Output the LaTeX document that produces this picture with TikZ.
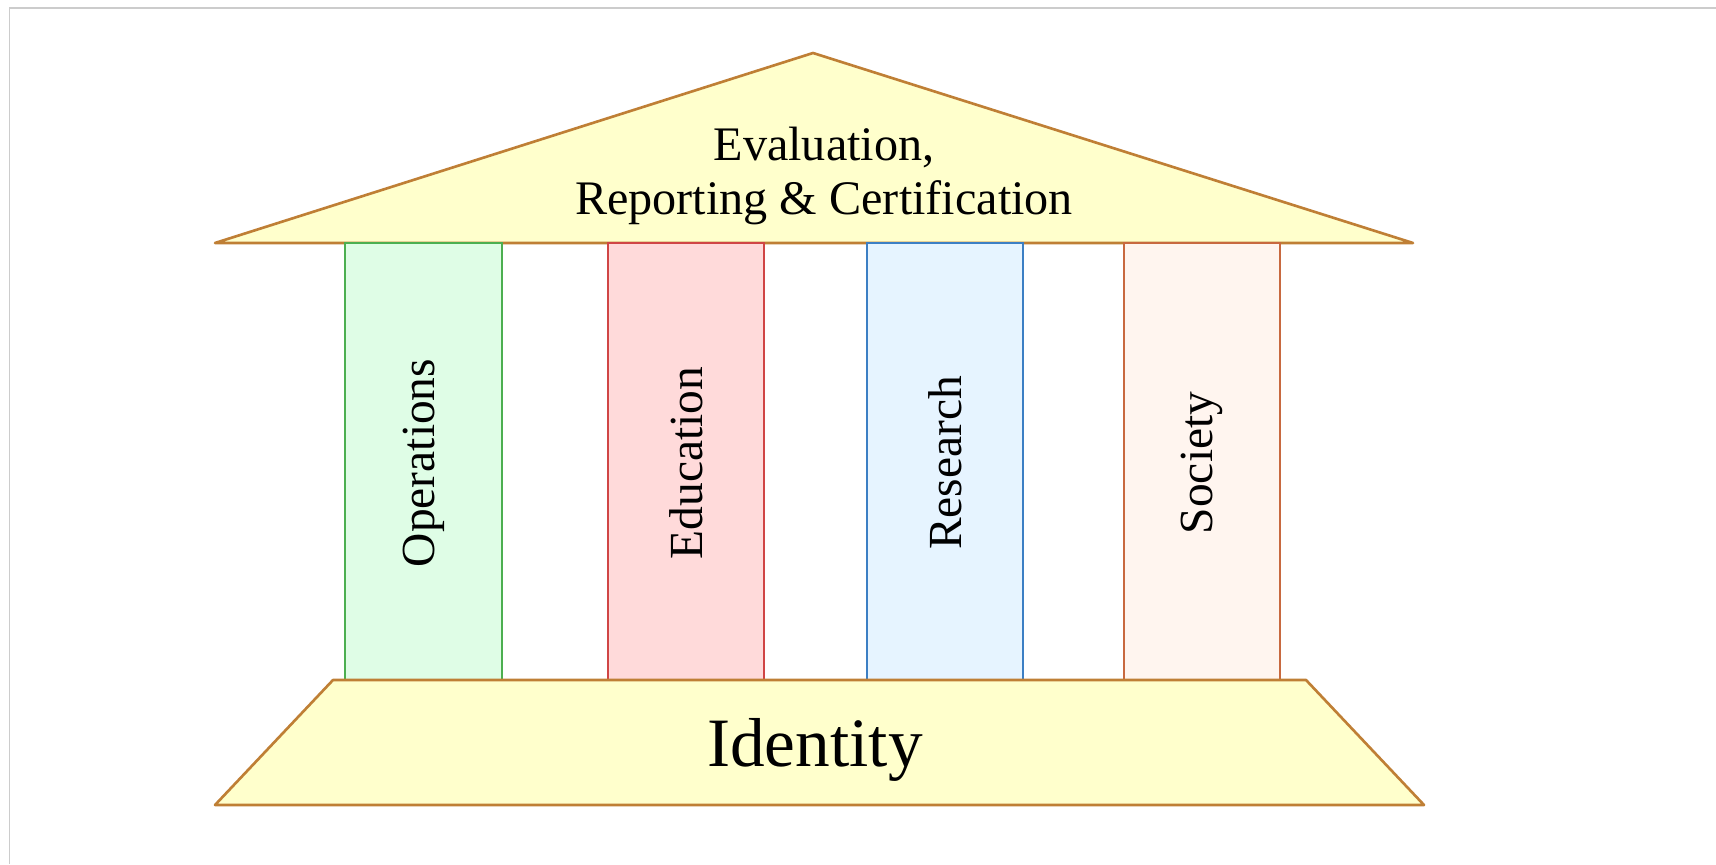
\documentclass[tikz,border=0pt]{standalone}
\usepackage{fontspec}
\setmainfont{Liberation Serif}
\usepackage{tikz}

\definecolor{frameline}{HTML}{CCCCCC}
\definecolor{roofline}{HTML}{BF7F35}
\definecolor{rooffill}{HTML}{FFFFCC}
\definecolor{opsline}{HTML}{4CAF50}
\definecolor{opsfill}{HTML}{DFFDE6}
\definecolor{eduline}{HTML}{D04545}
\definecolor{edufill}{HTML}{FFDADA}
\definecolor{resline}{HTML}{3C7FC4}
\definecolor{resfill}{HTML}{E6F4FF}
\definecolor{socline}{HTML}{C8693F}
\definecolor{socfill}{HTML}{FFF5EF}

\begin{document}
\begin{tikzpicture}[x=0.01cm,y=-0.01cm]
\tikzstyle{stone}=[draw=roofline,fill=rooffill,line width=0.75pt,line join=round]
\tikzstyle{pillar}=[line width=0.5pt]
\tikzstyle{pillartext}=[rotate=90,font=\fontsize{13.5}{16}\selectfont]
\useasboundingbox (0,0) rectangle (1716,864);
\draw[frameline,line width=0.3pt] (9.5,864) -- (9.5,8) -- (1716,8);
% roof
\draw[stone] (215,243) -- (813,53) -- (1413,243) -- cycle;
\node[align=center,font=\fontsize{13.7}{15.6}\selectfont] (roof) at (824,176) {Evaluation,\\Reporting \& Certification};
% pillars
\draw[pillar,draw=opsline,fill=opsfill] (345,680) -- (345,243) -- (502,243) -- (502,680);
\draw[pillar,draw=eduline,fill=edufill] (608,680) -- (608,243) -- (764,243) -- (764,680);
\draw[pillar,draw=resline,fill=resfill] (867,680) -- (867,243) -- (1023,243) -- (1023,680);
\draw[pillar,draw=socline,fill=socfill] (1124,680) -- (1124,243) -- (1280,243) -- (1280,680);
\node[pillartext] (ops) at (424,463) {Operations};
\node[pillartext] (edu) at (686,463) {Education};
\node[pillartext] (res) at (945,463) {Research};
\node[pillartext] (soc) at (1202,463) {Society};
% base
\draw[stone] (215,805) -- (333,680) -- (1306,680) -- (1424,805) -- cycle;
\node[anchor=base,font=\fontsize{19.7}{22}\selectfont] (identity) at (815,766) {Identity};
\end{tikzpicture}
\end{document}
